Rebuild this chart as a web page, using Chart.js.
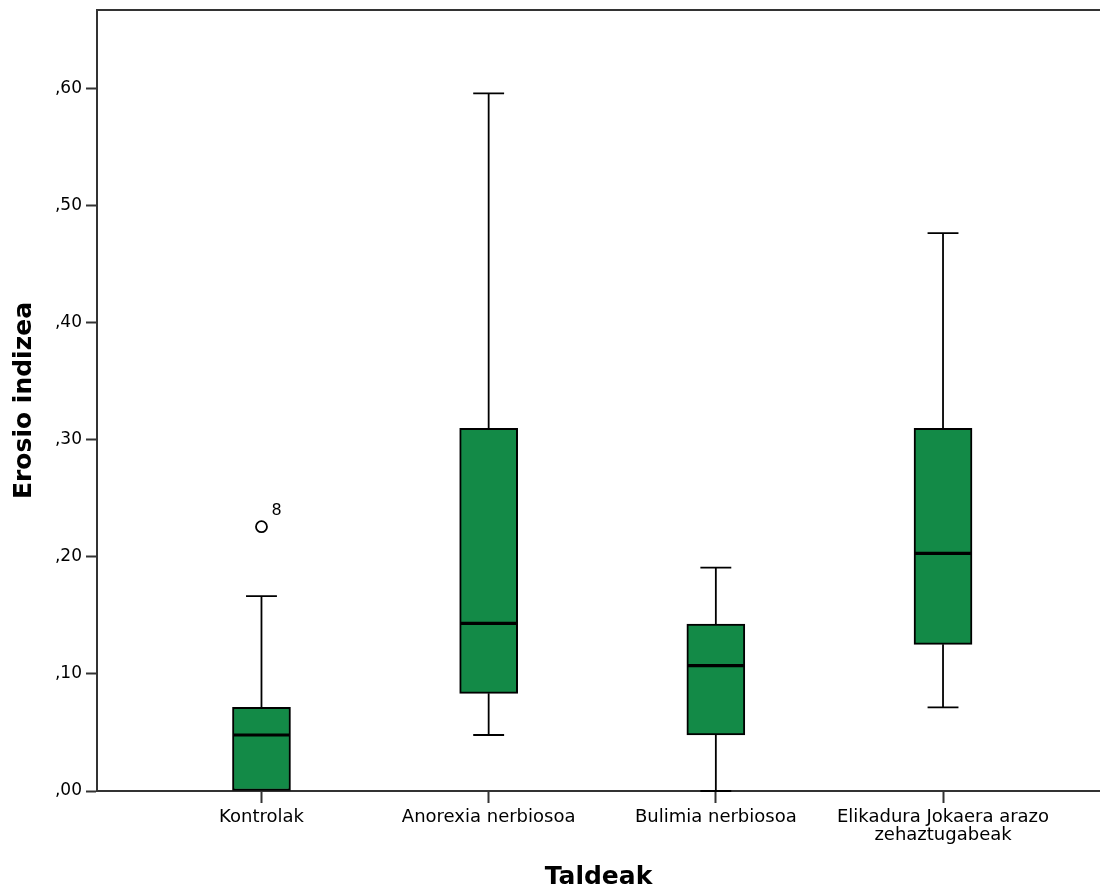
<!DOCTYPE html>
<html>
<head>
<meta charset="utf-8">
<script src="https://cdn.jsdelivr.net/npm/chart.js@4/dist/chart.umd.min.js"></script>
<style>
  html, body { margin: 0; padding: 0; background: #ffffff; }
  #wrap { width: 1100px; height: 892px; position: relative; }
</style>
</head>
<body>
<div id="wrap"><canvas id="chart" width="1100" height="892"></canvas></div>
<script>
// Groups (x axis categories)
const categories = [
  ['Kontrolak'],
  ['Anorexia nerbiosoa'],
  ['Bulimia nerbiosoa'],
  ['Elikadura Jokaera arazo', 'zehaztugabeak']
];

// Box plot summary of the erosion index per group
const whiskerLow  = [0.000, 0.0478, 0.000, 0.0714];
const quartile1   = [0.000, 0.0834, 0.0478, 0.1252];
const median      = [0.0478, 0.1431, 0.1070, 0.2029];
const quartile3   = [0.0714, 0.3095, 0.1425, 0.3095];
const whiskerHigh = [0.1664, 0.5955, 0.1906, 0.4762];

// Outliers: group index, value, case label
const outlierGroup = [0];
const outlierValue = [0.2256];
const outlierLabel = ['8'];

// Y axis ticks
const yTickValues = [0, 0.1, 0.2, 0.3, 0.4, 0.5, 0.6];
const yTickLabels = [',00', ',10', ',20', ',30', ',40', ',50', ',60'];

// Geometry of the boxes in x-axis units
const BOX_HALF = 0.1254;
const CAP_HALF = 0.068;
const X_MIN = -0.724;
const X_MAX = 3.691;
const Y_MAX = 0.6667;

const GREEN = '#138a47';
const INK = '#000000';
const AXIS = '#333333';

// Whiskers and caps as one gapped line
const whiskerPts = [];
categories.forEach((c, i) => {
  whiskerPts.push({x: i, y: quartile3[i]}, {x: i, y: whiskerHigh[i]}, {x: i, y: null});
  whiskerPts.push({x: i - CAP_HALF, y: whiskerHigh[i]}, {x: i + CAP_HALF, y: whiskerHigh[i]}, {x: i, y: null});
  if (quartile1[i] > whiskerLow[i]) {
    whiskerPts.push({x: i, y: quartile1[i]}, {x: i, y: whiskerLow[i]}, {x: i, y: null});
    whiskerPts.push({x: i - CAP_HALF, y: whiskerLow[i]}, {x: i + CAP_HALF, y: whiskerLow[i]}, {x: i, y: null});
  }
});

// Median bars
const medianPts = [];
categories.forEach((c, i) => {
  medianPts.push({x: i - BOX_HALF, y: median[i]}, {x: i + BOX_HALF, y: median[i]}, {x: i, y: null});
});

const boxPts = categories.map((c, i) => ({x: i, y: [quartile1[i], quartile3[i]]}));
const outlierPts = outlierGroup.map((g, k) => ({x: g, y: outlierValue[k]}));

// Scales keep no extra room for edge labels
function noEdgePadding(scale) {
  scale.paddingTop = 0;
  scale.paddingBottom = 0;
  scale.paddingLeft = 0;
  scale.paddingRight = 0;
}

// Top frame line and outlier case labels
const framePlugin = {
  id: 'frame',
  afterDraw(chart) {
    const {ctx, chartArea} = chart;
    ctx.save();
    ctx.strokeStyle = AXIS;
    ctx.lineWidth = 2;
    ctx.beginPath();
    ctx.moveTo(chartArea.left - 1, chartArea.top);
    ctx.lineTo(chartArea.right, chartArea.top);
    ctx.stroke();

    const meta = chart.getDatasetMeta(3);
    ctx.fillStyle = INK;
    ctx.font = '16px "DejaVu Sans"';
    ctx.textAlign = 'left';
    ctx.textBaseline = 'middle';
    meta.data.forEach((pt, k) => {
      ctx.fillText(outlierLabel[k], pt.x + 10, pt.y - 16);
    });
    ctx.restore();
  }
};

new Chart(document.getElementById('chart'), {
  type: 'bar',
  data: {
    datasets: [
      {
        type: 'bar',
        data: boxPts,
        backgroundColor: GREEN,
        borderColor: INK,
        borderWidth: 2,
        borderSkipped: false,
        barThickness: 58,
        order: 2
      },
      {
        type: 'line',
        data: whiskerPts,
        borderColor: INK,
        borderWidth: 1.8,
        pointRadius: 0,
        spanGaps: false,
        tension: 0,
        clip: false,
        order: 3
      },
      {
        type: 'line',
        data: medianPts,
        borderColor: INK,
        borderWidth: 3.2,
        pointRadius: 0,
        spanGaps: false,
        tension: 0,
        order: 1
      },
      {
        type: 'scatter',
        data: outlierPts,
        pointStyle: 'circle',
        pointRadius: 5.5,
        pointBackgroundColor: '#ffffff',
        pointBorderColor: INK,
        pointBorderWidth: 1.8,
        order: 0
      }
    ]
  },
  options: {
    responsive: false,
    animation: false,
    layout: { autoPadding: false, padding: { top: 10, right: 0, bottom: 0, left: 0 } },
    plugins: {
      legend: { display: false },
      tooltip: { enabled: false }
    },
    scales: {
      x: {
        type: 'linear',
        min: X_MIN,
        max: X_MAX,
        offset: false,
        afterFit(scale) { scale.height = 101; noEdgePadding(scale); },
        afterBuildTicks(scale) { scale.ticks = categories.map((c, i) => ({value: i})); },
        ticks: {
          autoSkip: false,
          maxRotation: 0,
          minRotation: 0,
          padding: 5,
          color: INK,
          font: { family: 'DejaVu Sans', size: 18, lineHeight: 1.0 },
          callback: (v, i) => categories[i]
        },
        grid: {
          offset: false,
          drawOnChartArea: false,
          drawTicks: true,
          tickLength: 12,
          tickWidth: 2,
          tickColor: AXIS
        },
        border: { display: true, color: AXIS, width: 2 },
        title: {
          display: true,
          text: 'Taldeak',
          color: INK,
          font: { family: 'DejaVu Sans', size: 25, weight: 'bold', lineHeight: 1.2 },
          padding: { top: 0, bottom: 0 }
        }
      },
      y: {
        type: 'linear',
        min: 0,
        max: Y_MAX,
        afterFit(scale) { scale.width = 97; noEdgePadding(scale); },
        afterBuildTicks(scale) { scale.ticks = yTickValues.map(v => ({value: v})); },
        ticks: {
          padding: 4,
          color: INK,
          font: { family: 'DejaVu Sans', size: 17 },
          callback: (v, i) => yTickLabels[i]
        },
        grid: {
          drawOnChartArea: false,
          drawTicks: true,
          tickLength: 11,
          tickWidth: 2,
          tickColor: AXIS
        },
        border: { display: true, color: AXIS, width: 2 },
        title: {
          display: true,
          text: 'Erosio indizea',
          color: INK,
          font: { family: 'DejaVu Sans', size: 25, weight: 'bold', lineHeight: 1.2 },
          padding: { top: 9, bottom: 0 }
        }
      }
    }
  },
  plugins: [framePlugin]
});
</script>
</body>
</html>
